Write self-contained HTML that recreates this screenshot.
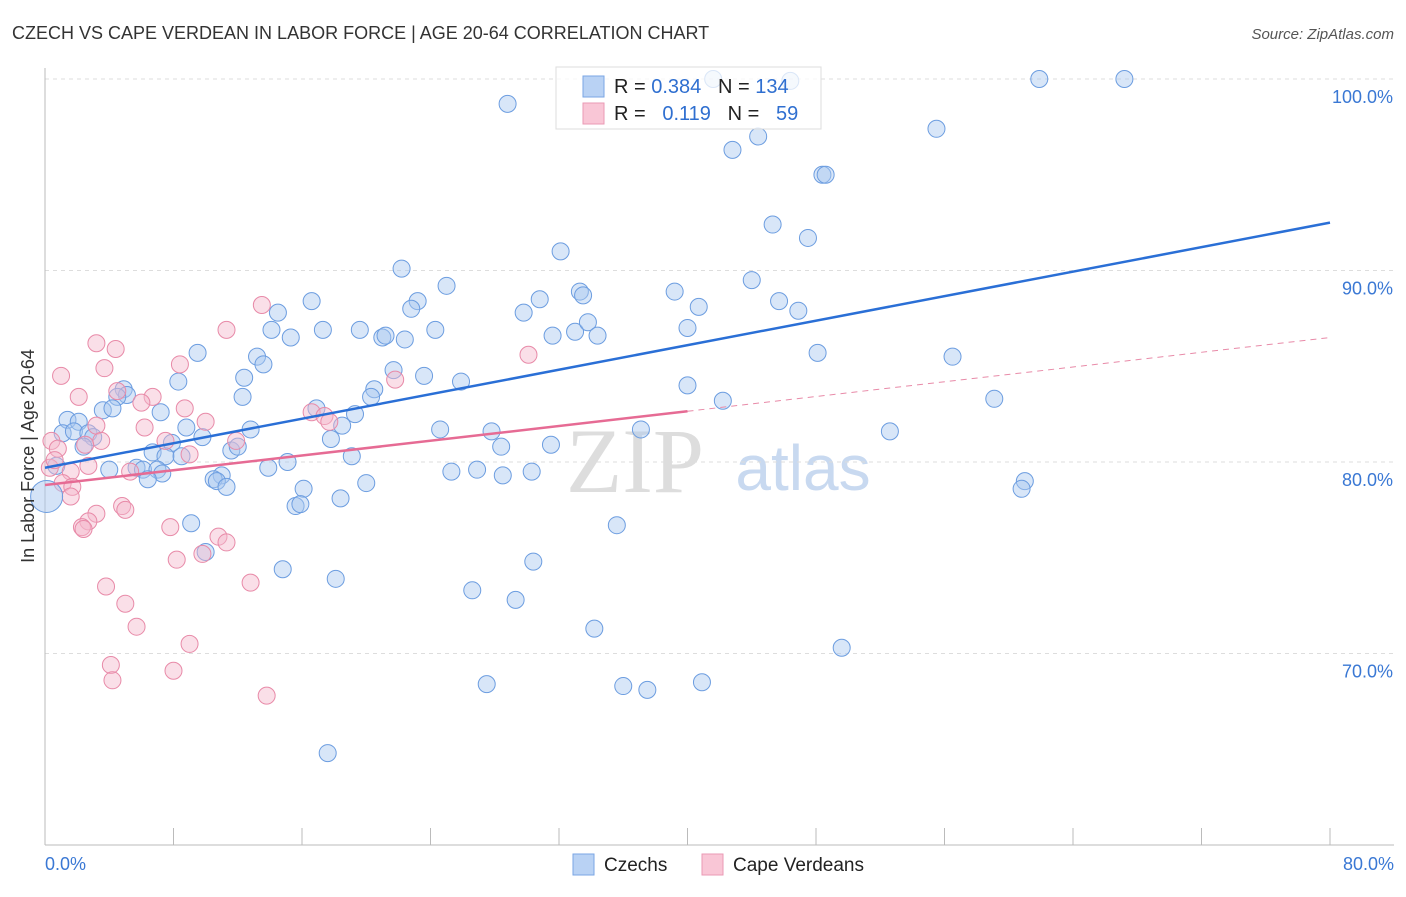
<!DOCTYPE html>
<html><head><meta charset="utf-8"><style>
body{margin:0;background:#fff;font-family:"Liberation Sans",sans-serif;}
</style></head><body>
<svg id="chart" width="1406" height="892" xmlns="http://www.w3.org/2000/svg">
<text x="12" y="39" font-size="18" fill="#333">CZECH VS CAPE VERDEAN IN LABOR FORCE | AGE 20-64 CORRELATION CHART</text>
<text x="1394" y="39" font-size="15" fill="#555" font-style="italic" text-anchor="end">Source: ZipAtlas.com</text>
<text x="635" y="492" font-size="92" fill="#ddd" font-family="Liberation Serif,serif" text-anchor="middle">ZIP</text>
<text x="803" y="490" font-size="64" fill="#c8d9f0" text-anchor="middle">atlas</text>
<g id="grid"></g><g id="axes"></g><g id="pts"></g><g id="lines"></g>
<text x="34" y="456" font-size="18" fill="#333" text-anchor="middle" transform="rotate(-90 34 456)">In Labor Force | Age 20-64</text>
<text x="45" y="870" font-size="18" fill="#3a78d4">0.0%</text>
<text x="1394" y="870" font-size="18" fill="#3a78d4" text-anchor="end">80.0%</text>
<g>
<rect x="556" y="67" width="265" height="62" fill="#fff" fill-opacity="0.75" stroke="#ddd"/>
<rect x="583" y="76" width="21" height="21" fill="#b9d2f4" stroke="#7aa6e4"/>
<rect x="583" y="103" width="21" height="21" fill="#f9c6d6" stroke="#ea9ab4"/>
<text x="614" y="93" font-size="20" fill="#222" xml:space="preserve">R = <tspan fill="#2f6fd0">0.384</tspan>   N = <tspan fill="#2f6fd0">134</tspan></text>
<text x="614" y="120" font-size="20" fill="#222" xml:space="preserve">R =   <tspan fill="#2f6fd0">0.119</tspan>   N =   <tspan fill="#2f6fd0">59</tspan></text>
</g>
<g>
<rect x="573" y="854" width="21" height="21" fill="#b9d2f4" stroke="#7aa6e4"/>
<text x="604" y="871" font-size="19" fill="#222">Czechs</text>
<rect x="702" y="854" width="21" height="21" fill="#f9c6d6" stroke="#ea9ab4"/>
<text x="733" y="871" font-size="19" fill="#222">Cape Verdeans</text>
</g>
</svg>
<script>
const yTicks=[100,90,80,70];
const yTickLabels=["100.0%","90.0%","80.0%","70.0%"];
const xTicks=[0,8,16,24,32,40,48,56,64,72,80];
const czechX=[28.8,41.6,46.4,61.9,67.2,55.5,42.8,44.4,48.4,48.6,45.3,47.5,32.1,22.2,25.0,33.3,33.5,39.2,44.0,30.8,29.8,40.7,45.7,46.9,23.2,22.8,16.6,14.5,14.1,15.3,17.3,19.6,21.0,21.2,22.4,24.3,31.6,33.0,33.8,34.4,40.0,48.1,56.5,9.5,13.2,13.6,21.7,23.6,12.4,8.3,25.9,20.5,20.3,40.0,42.2,59.1,4.9,5.1,4.5,12.3,3.6,4.2,7.2,16.9,19.3,1.4,2.1,18.5,12.8,24.6,27.8,37.1,52.6,1.1,1.8,2.7,3.0,8.8,9.8,17.8,2.4,7.9,31.5,28.4,11.6,12.0,6.7,7.5,8.5,19.1,15.1,13.9,5.7,4.0,6.1,7.0,7.3,6.4,25.3,26.9,28.5,30.3,11.0,10.5,10.7,11.3,20.0,16.1,61.0,60.8,18.4,15.6,15.9,9.1,35.6,10.0,14.8,30.4,18.1,26.6,29.3,34.2,49.6,27.5,36.0,37.5,40.9,17.6,0.7];
const czechY=[98.7,100,99.9,100,100,97.4,96.3,97.0,95.0,95.0,92.4,91.7,91.0,90.1,89.2,88.9,88.7,88.9,89.5,88.5,87.8,88.1,88.4,87.9,88.4,88.0,88.4,87.8,86.9,86.5,86.9,86.9,86.5,86.6,86.4,86.9,86.6,86.8,87.3,86.6,87.0,85.7,85.5,85.7,85.5,85.1,84.8,84.5,84.4,84.2,84.2,83.8,83.4,84.0,83.2,83.3,83.8,83.5,83.4,83.4,82.7,82.8,82.6,82.8,82.5,82.2,82.1,81.9,81.7,81.7,81.6,81.7,81.6,81.5,81.6,81.5,81.3,81.8,81.3,81.2,80.8,81.0,80.9,80.8,80.6,80.8,80.5,80.3,80.3,80.3,80.0,79.7,79.7,79.6,79.6,79.6,79.4,79.1,79.5,79.6,79.3,79.5,79.3,79.1,79.0,78.7,78.9,78.6,79.0,78.6,78.1,77.7,77.8,76.8,76.7,75.3,74.4,74.8,73.9,73.3,72.8,71.3,70.3,68.4,68.3,68.1,68.5,64.8,79.8];
const capeX=[1.0,3.7,3.2,4.4,11.3,13.5,8.4,2.1,4.5,6.7,6.0,8.7,10.0,16.6,17.4,17.7,21.8,30.1,3.2,6.2,3.5,7.5,11.9,0.4,0.8,2.5,9.0,5.3,2.7,1.6,1.1,1.7,1.6,3.2,4.8,5.0,2.7,2.3,2.4,7.8,10.8,11.3,9.8,8.2,3.8,12.8,5.0,5.7,9.0,4.1,8.0,4.2,13.8,0.3,0.6];
const capeY=[84.5,84.9,86.2,85.9,86.9,88.2,85.1,83.4,83.7,83.4,83.1,82.8,82.1,82.6,82.4,82.1,84.3,85.6,81.9,81.8,81.1,81.1,81.1,81.1,80.7,80.9,80.4,79.5,79.8,79.5,78.9,78.7,78.2,77.3,77.7,77.5,76.9,76.6,76.5,76.6,76.1,75.8,75.2,74.9,73.5,73.7,72.6,71.4,70.5,69.4,69.1,68.6,67.8,79.7,80.1];
const czechTrend=[79.7,92.5];
const capeTrend=[78.8,86.5];
const capeSolidEnd=40;
const NS="http://www.w3.org/2000/svg";
const X=v=>45+v/80*1285, Y=v=>79+(100-v)*19.15;
function mk(t,a,p){const e=document.createElementNS(NS,t);for(const k in a)e.setAttribute(k,a[k]);p.appendChild(e);return e;}
const grid=document.getElementById('grid'),axes=document.getElementById('axes'),pts=document.getElementById('pts'),lines=document.getElementById('lines');
yTicks.forEach((t,i)=>{
 const l=mk('line',{x1:45,x2:1394,y1:Y(t),y2:Y(t),stroke:'#ddd','stroke-dasharray':'4 4'},grid);
 
 
 const tx=mk('text',{x:1393,y:Y(t)+24,'font-size':18,fill:'#3a78d4','text-anchor':'end'},grid);
 tx.textContent=yTickLabels[i];
 
 
});
const ya=mk('line',{x1:45,x2:45,y1:68,y2:845,stroke:'#bbb'},axes);


const xa=mk('line',{x1:45,x2:1394,y1:845,y2:845,stroke:'#bbb'},axes);


xTicks.forEach(t=>{
 const l=mk('line',{x1:X(t),x2:X(t),y1:828,y2:845,stroke:'#bbb'},axes);
 
 
});
function draw(xs,ys,fill,stroke,name){
 xs.forEach((x,i)=>{
  const c=mk('circle',{cx:X(x),cy:Y(ys[i]),r:8.5,fill:fill,'fill-opacity':0.45,stroke:stroke,'stroke-width':1},pts);
  
  
 });
}
draw(czechX,czechY,'#a9c8f0','#6c9de0','czech-point');
draw(capeX,capeY,'#f5b8cb','#e88aa8','cape-verdean-point');
const big=mk('circle',{cx:X(0.1),cy:Y(78.2),r:16,fill:'#a9c8f0','fill-opacity':0.5,stroke:'#6c9de0'},pts);


const bl=mk('line',{x1:X(0),y1:Y(czechTrend[0]),x2:X(80),y2:Y(czechTrend[1]),stroke:'#2a6fd6','stroke-width':2.5},lines);


const pv=x=>capeTrend[0]+(capeTrend[1]-capeTrend[0])*x/80;
const pl=mk('line',{x1:X(0),y1:Y(pv(0)),x2:X(capeSolidEnd),y2:Y(pv(capeSolidEnd)),stroke:'#e66b94','stroke-width':2.5},lines);


const pd=mk('line',{x1:X(capeSolidEnd),y1:Y(pv(capeSolidEnd)),x2:X(80),y2:Y(pv(80)),stroke:'#e88aa8','stroke-width':1,'stroke-dasharray':'6 5'},lines);


</script>
</body></html>
